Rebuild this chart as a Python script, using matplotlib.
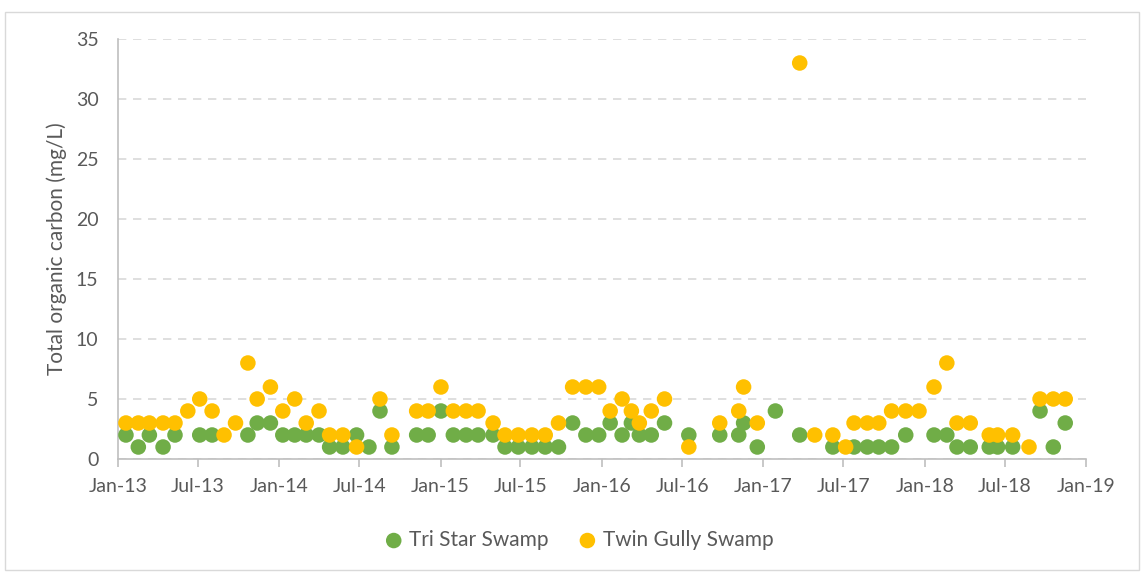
import matplotlib
matplotlib.use("Agg")
import matplotlib.pyplot as plt
import matplotlib.dates as mdates
from matplotlib.patches import Rectangle
import pandas as pd

plt.rcParams['font.family'] = ['Lato', 'DejaVu Sans']

tri_star_dates = [
    "2013-01-19", "2013-02-16", "2013-03-13", "2013-04-13", "2013-05-10",
    "2013-07-05", "2013-08-02", "2013-10-22", "2013-11-12", "2013-12-12",
    "2014-01-09", "2014-02-05", "2014-03-03", "2014-04-01", "2014-04-25",
    "2014-05-25", "2014-06-25", "2014-07-23", "2014-08-17", "2014-09-13",
    "2014-11-08", "2014-12-04", "2015-01-02", "2015-01-30", "2015-02-28",
    "2015-03-27", "2015-04-30", "2015-05-27", "2015-06-26", "2015-07-27",
    "2015-08-26", "2015-09-25", "2015-10-27", "2015-11-26", "2015-12-25",
    "2016-01-20", "2016-02-16", "2016-03-08", "2016-03-26", "2016-04-22",
    "2016-05-22", "2016-07-16", "2016-09-24", "2016-11-06", "2016-11-17",
    "2016-12-18", "2017-01-28", "2017-03-24", "2017-06-07", "2017-07-25",
    "2017-08-24", "2017-09-19", "2017-10-18", "2017-11-19", "2018-01-22",
    "2018-02-20", "2018-03-15", "2018-04-14", "2018-05-27", "2018-06-15",
    "2018-07-19", "2018-09-19", "2018-10-19", "2018-11-15",
]
tri_star_toc = [
    2, 1, 2, 1, 2,
    2, 2, 2, 3, 3,
    2, 2, 2, 2, 1,
    1, 2, 1, 4, 1,
    2, 2, 4, 2, 2,
    2, 2, 1, 1, 1,
    1, 1, 3, 2, 2,
    3, 2, 3, 2, 2,
    3, 2, 2, 2, 3,
    1, 4, 2, 1, 1,
    1, 1, 1, 2, 2,
    2, 1, 1, 1, 1,
    1, 4, 1, 3,
]

twin_gully_dates = [
    "2013-01-19", "2013-02-16", "2013-03-13", "2013-04-13", "2013-05-10",
    "2013-06-08", "2013-07-05", "2013-08-02", "2013-08-29", "2013-09-24",
    "2013-10-22", "2013-11-12", "2013-12-12", "2014-01-09", "2014-02-05",
    "2014-03-03", "2014-04-01", "2014-04-25", "2014-05-25", "2014-06-25",
    "2014-08-17", "2014-09-13", "2014-11-08", "2014-12-04", "2015-01-02",
    "2015-01-30", "2015-02-28", "2015-03-27", "2015-04-30", "2015-05-27",
    "2015-06-26", "2015-07-27", "2015-08-26", "2015-09-25", "2015-10-27",
    "2015-11-26", "2015-12-25", "2016-01-20", "2016-02-16", "2016-03-08",
    "2016-03-26", "2016-04-22", "2016-05-22", "2016-07-16", "2016-09-24",
    "2016-11-06", "2016-11-17", "2016-12-18", "2017-03-24", "2017-04-27",
    "2017-06-07", "2017-07-06", "2017-07-25", "2017-08-24", "2017-09-19",
    "2017-10-18", "2017-11-19", "2017-12-19", "2018-01-22", "2018-02-20",
    "2018-03-15", "2018-04-14", "2018-05-27", "2018-06-15", "2018-07-19",
    "2018-08-25", "2018-09-19", "2018-10-19", "2018-11-15",
]
twin_gully_toc = [
    3, 3, 3, 3, 3,
    4, 5, 4, 2, 3,
    8, 5, 6, 4, 5,
    3, 4, 2, 2, 1,
    5, 2, 4, 4, 6,
    4, 4, 4, 3, 2,
    2, 2, 2, 3, 6,
    6, 6, 4, 5, 4,
    3, 4, 5, 1, 3,
    4, 6, 3, 33, 2,
    2, 1, 3, 3, 3,
    4, 4, 4, 6, 8,
    3, 3, 2, 2, 2,
    1, 5, 5, 5,
]

green = '#70AD47'
orange = '#FFC000'
grey_text = '#595959'

fig = plt.figure(figsize=(11.44, 5.72), dpi=100)
ax = fig.add_axes([118 / 1144, 1 - 459 / 572, (1086 - 118) / 1144, (459 - 39) / 572])

ax.scatter(pd.to_datetime(tri_star_dates), tri_star_toc, s=125, color=green,
           edgecolors='none', label='Tri Star Swamp', zorder=3)
ax.scatter(pd.to_datetime(twin_gully_dates), twin_gully_toc, s=125, color=orange,
           edgecolors='none', label='Twin Gully Swamp', zorder=4)

ax.set_xlim(pd.Timestamp('2013-01-01'), pd.Timestamp('2019-01-01'))
ax.set_ylim(0, 35)
ax.set_yticks(range(0, 36, 5))
ax.xaxis.set_major_locator(mdates.MonthLocator(bymonth=[1, 7]))
ax.xaxis.set_major_formatter(mdates.DateFormatter('%b-%y'))

ax.grid(axis='y', color='#D9D9D9', linestyle=(0, (5, 4)), linewidth=1.2)
ax.set_axisbelow(True)
for side in ['top', 'right']:
    ax.spines[side].set_visible(False)
for side in ['left', 'bottom']:
    ax.spines[side].set_color('#BFBFBF')
    ax.spines[side].set_linewidth(1.2)
ax.tick_params(axis='x', direction='out', length=6, color='#BFBFBF', width=1.2,
               labelsize=14, labelcolor=grey_text, pad=8)
ax.tick_params(axis='y', length=0, labelsize=14, labelcolor=grey_text, pad=14)

ax.set_ylabel('Total organic carbon (mg/L)', fontsize=15, color=grey_text, labelpad=6)

fig.legend(loc='center', bbox_to_anchor=(579 / 1144, 1 - 540 / 572), ncol=2,
           frameon=False, fontsize=15, labelcolor=grey_text, handlelength=0.9,
           handletextpad=0.3, columnspacing=1.4, markerscale=1.0)

# light outline around the whole chart area
fig.patches.append(Rectangle((5 / 1144, 2 / 572), 1134 / 1144, 558 / 572,
                             transform=fig.transFigure, fill=False,
                             edgecolor='#D9D9D9', linewidth=1.0))

fig.savefig('out.png', dpi=100)
